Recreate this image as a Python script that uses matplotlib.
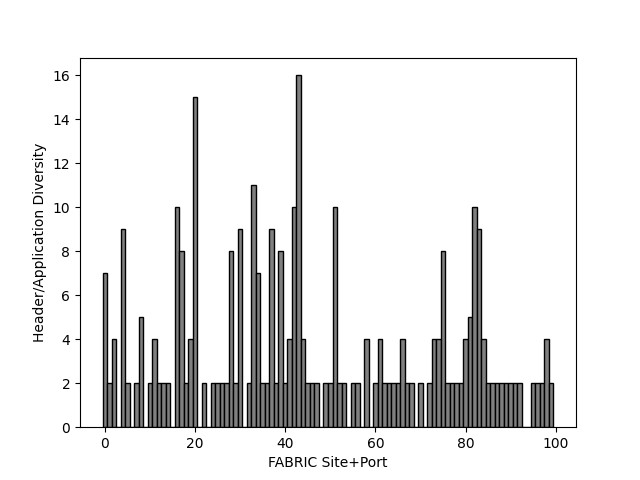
import matplotlib
matplotlib.use("Agg")
import matplotlib.pyplot as plt
import numpy as np

# Diversity count per site+port index (0 = no bar)
site_port = np.arange(100)
diversity = [
    7, 2, 4, 0, 9, 2, 0, 2, 5, 0,
    2, 4, 2, 2, 2, 0, 10, 8, 2, 4,
    15, 0, 2, 0, 2, 2, 2, 2, 8, 2,
    9, 0, 2, 11, 7, 2, 2, 9, 2, 8,
    2, 4, 10, 16, 4, 2, 2, 2, 0, 2,
    2, 10, 2, 2, 0, 2, 2, 0, 4, 0,
    2, 4, 2, 2, 2, 2, 4, 2, 2, 0,
    2, 0, 2, 4, 4, 8, 2, 2, 2, 2,
    4, 5, 10, 9, 4, 2, 2, 2, 2, 2,
    2, 2, 2, 0, 0, 2, 2, 2, 4, 2,
]

fig, ax = plt.subplots(figsize=(6.4, 4.8), dpi=100)
ax.bar(site_port, diversity, width=1, color="grey", edgecolor="black")
ax.set_xlabel("FABRIC Site+Port")
ax.set_ylabel("Header/Application Diversity")

fig.savefig("out.png")
